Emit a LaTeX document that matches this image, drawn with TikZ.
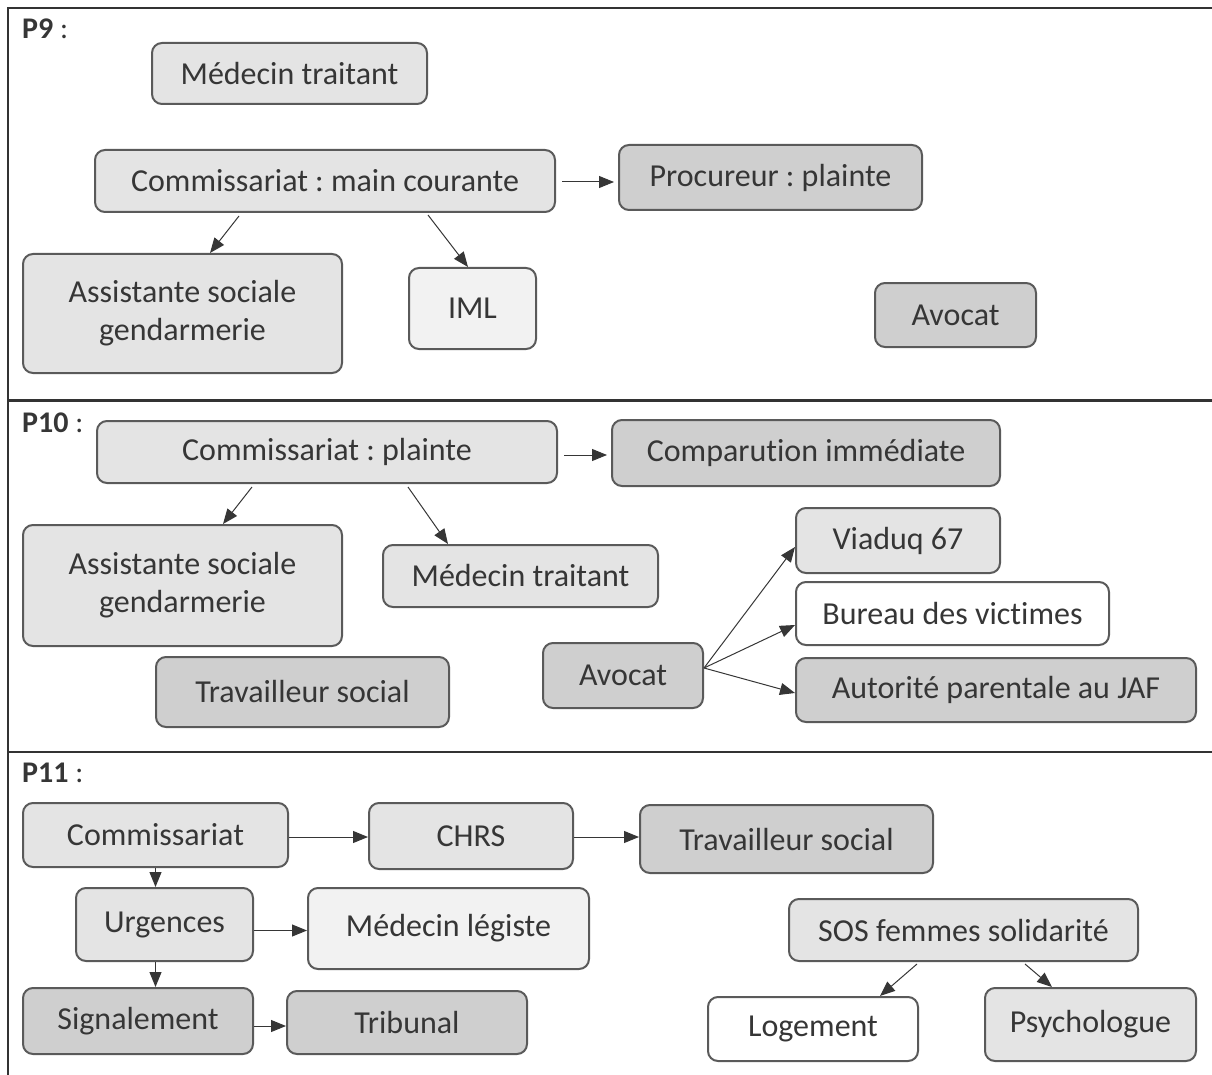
\documentclass[tikz,border=0pt]{standalone}
\usepackage{fontspec}
\setmainfont{Carlito}[Ligatures={NoCommon}]
\usetikzlibrary{arrows.meta,calc}
\definecolor{cLight}{HTML}{E4E4E4}
\definecolor{cMid}{HTML}{CFCFCF}
\definecolor{cVLight}{HTML}{F2F2F2}
\definecolor{cBorder}{HTML}{5A5A5A}
\definecolor{cText}{HTML}{363636}
\definecolor{cRule}{HTML}{333333}
\newcommand\bx[7]{\node[box,fill=#6,minimum width={#4-#2},minimum height={#5-#3}] (#1) at ({(#2+#4)/2},{-(#3+#5)/2}) {#7};}
\frenchspacing
\begin{document}
\begin{tikzpicture}[x=1pt,y=1pt,
  box/.style={draw=cBorder,line width=2pt,rounded corners=10pt,inner sep=0pt,text=cText,align=center,font=\fontsize{32}{38}\selectfont},
  arr/.style={draw=cText,line width=1pt,-{Triangle[length=15pt,width=12pt]}},
  lbl/.style={anchor=base west,inner sep=0pt,text=cText,font=\fontsize{30}{36}\selectfont},
  rule/.style={draw=cRule,line width=2.5pt}]
\useasboundingbox (0,0) rectangle (1212,-1075);
% frame
\draw[rule] (1212,-8) -- (8,-8) -- (8,-1075);
\draw[rule] (8,-400.5) -- (1212,-400.5);
\draw[rule] (8,-752) -- (1212,-752);
% labels
\node[lbl] (l9) at (22,-39) {\textbf{P9} :};
\node[lbl] (l10) at (22,-432) {\textbf{P10} :};
\node[lbl] (l11) at (22,-782) {\textbf{P11} :};
% P9
\bx{mt1}{152}{43}{427}{104}{cLight}{Médecin traitant}
\bx{cmc}{95}{150}{555}{212}{cLight}{Commissariat : main courante}
\bx{proc}{619}{145}{922}{210}{cMid}{Procureur : plainte}
\bx{as1}{23}{254}{342}{373}{cLight}{Assistante sociale\\gendarmerie}
\bx{iml}{409}{268}{536}{349}{cVLight}{IML}
\bx{av1}{875}{283}{1036}{347}{cMid}{Avocat}
\draw[arr] ([xshift=-86pt,yshift=-3pt]cmc.south) -- ([xshift=27.5pt]as1.north);
\draw[arr] ([xshift=103pt,yshift=-2pt]cmc.south) -- ([xshift=-4.5pt]iml.north);
\draw[arr,shorten >=4pt] ([xshift=6pt,yshift=-1pt]cmc.east) -- ([yshift=-1pt]cmc.east -| proc.west);
% P10
\bx{cp}{97}{421}{557}{483}{cLight}{Commissariat : plainte}
\bx{comp}{612}{420}{1000}{486}{cMid}{Comparution immédiate}
\bx{as2}{23}{525}{342}{646}{cLight}{Assistante sociale\\gendarmerie}
\bx{mt2}{383}{545}{658}{607}{cLight}{Médecin traitant}
\bx{tw2}{156}{657}{449}{727}{cMid}{Travailleur social}
\bx{av2}{543}{643}{703}{708}{cMid}{Avocat}
\bx{via}{796}{508}{1000}{573}{cLight}{Viaduq 67}
\bx{bur}{796}{582}{1109}{645}{white}{Bureau des victimes}
\bx{aut}{796}{658}{1196}{722}{cMid}{Autorité parentale au JAF}
\draw[arr] ([xshift=-75pt,yshift=-3pt]cp.south) -- ([xshift=40.5pt]as2.north);
\draw[arr] ([xshift=81pt,yshift=-3pt]cp.south) -- ([xshift=-72.5pt]mt2.north);
\draw[arr,shorten >=4pt] ([xshift=6pt,yshift=-3pt]cp.east) -- ([yshift=-3pt]cp.east -| comp.west);
\draw[arr] ([yshift=7.5pt]av2.east) -- ([yshift=-6.5pt]via.west);
\draw[arr] ([yshift=7.5pt]av2.east) -- ([yshift=-11.5pt]bur.west);
\draw[arr] ([yshift=7.5pt]av2.east) -- ([yshift=-3pt]aut.west);
% P11
\bx{com3}{23}{803}{288}{867}{cLight}{Commissariat}
\bx{chrs}{369}{803}{573}{869}{cLight}{CHRS}
\bx{tw3}{640}{805}{933}{873}{cMid}{Travailleur social}
\bx{urg}{76}{888}{253}{961}{cLight}{Urgences}
\bx{ml}{308}{888}{589}{969}{cVLight}{Médecin légiste}
\bx{sig}{23}{988}{253}{1054}{cMid}{Signalement}
\bx{trib}{287}{991}{527}{1054}{cMid}{Tribunal}
\bx{sos}{789}{899}{1138}{961}{cLight}{SOS femmes solidarité}
\bx{log}{708}{997}{918}{1061}{white}{Logement}
\bx{psy}{985}{988}{1196}{1061}{cLight}{Psychologue}
\draw[arr] ([yshift=-2pt]com3.east) -- ([yshift=-2pt]com3.east -| chrs.west);
\draw[arr] ([yshift=-1pt]chrs.east) -- ([yshift=-1pt]chrs.east -| tw3.west);
\draw[arr] (com3.south) -- (com3.south |- urg.north);
\draw[arr] ([yshift=-6pt]urg.east) -- ([yshift=-6pt]urg.east -| ml.west);
\draw[arr] (com3.south |- urg.south) -- (com3.south |- sig.north);
\draw[arr] ([yshift=-5pt]sig.east) -- ([yshift=-5pt]sig.east -| trib.west);
\draw[arr] ([xshift=-46.5pt,yshift=-2pt]sos.south) -- ([xshift=67pt]log.north);
\draw[arr] ([xshift=61.5pt,yshift=-2pt]sos.south) -- ([xshift=-38.5pt]psy.north);
\end{tikzpicture}
\end{document}
